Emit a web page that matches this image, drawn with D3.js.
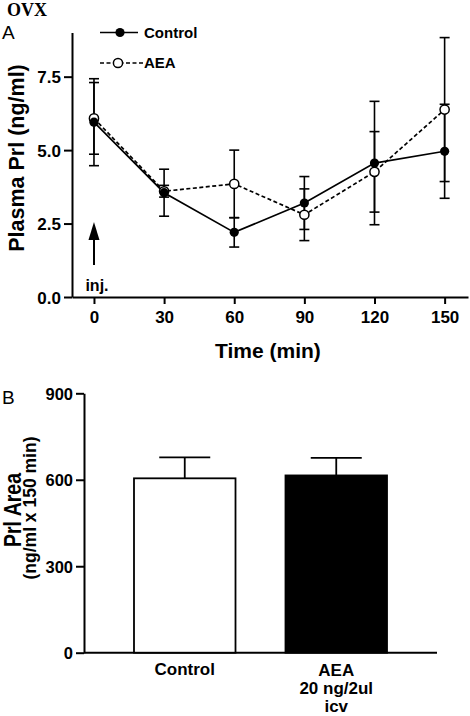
<!DOCTYPE html>
<html><head><meta charset="utf-8">
<script src="https://cdn.jsdelivr.net/npm/d3@7"></script>
<style>
body{margin:0;background:#fff;}
text{font-family:"Liberation Sans",Arial,Helvetica,sans-serif;font-weight:bold;fill:#000;}
</style></head>
<body><svg id="c" width="470" height="716"></svg>
<script>
// Panel A data
const times = [0, 30, 60, 90, 120, 150];
const controlMean = [5.95, 3.55, 2.2, 3.2, 4.56, 4.96];
const controlErr  = [1.48, 0.8, 0.5, 0.9, 2.1, 1.6];
const aeaMean     = [6.08, 3.6, 3.85, 2.8, 4.26, 6.38];
const aeaErr      = [1.22, 0.2, 1.15, 0.88, 1.37, 2.45];
const yTicksA = [0, 2.5, 5, 7.5];
// Panel B data
const groups = ["Control", "AEA"];
const areaMean = [605, 615];
const areaErr  = [73, 61];
const yTicksB = [0, 300, 600, 900];

const svg = d3.select("#c");

// ---------- Panel A ----------
const xA = d3.scaleLinear().domain([-9.4, 160]).range([72, 468]);
const yA = d3.scaleLinear().domain([0, 9]).range([297, 32.6]);

const gxA = svg.append("g").attr("transform","translate(0,297)")
  .call(d3.axisBottom(xA).tickValues(times).tickSize(7).tickSizeOuter(0).tickPadding(7));
const gyA = svg.append("g").attr("transform","translate(72,0)")
  .call(d3.axisLeft(yA).tickValues(yTicksA).tickFormat(d3.format(".1f")).tickSize(8).tickSizeOuter(0).tickPadding(3));
[gxA, gyA].forEach(g=>{
  g.selectAll("path,line").attr("stroke","#000").attr("stroke-width",2);
  g.selectAll("text").style("font-size","17px").style("font-weight","bold");
});
gyA.selectAll("text").attr("dy","0.36em");

svg.append("text").attr("x",215).attr("y",358).style("font-size","21px").text("Time (min)");
svg.append("text").attr("transform","translate(24,158) rotate(-90)").attr("text-anchor","middle")
  .style("font-size","21.5px").text("Plasma Prl (ng/ml)");
svg.append("text").attr("x",7).attr("y",16).style("font-family","'Liberation Serif','Times New Roman',serif")
  .style("font-size","18px").text("OVX");
svg.append("text").attr("x",2).attr("y",39).style("font-size","19px").style("font-weight","normal").text("A");

// arrow + inj.
svg.append("line").attr("x1",xA(0)).attr("x2",xA(0)).attr("y1",265).attr("y2",238)
  .attr("stroke","#000").attr("stroke-width",2);
svg.append("path").attr("d",`M${xA(0)-5.5},240 L${xA(0)+5.5},240 L${xA(0)},222 Z`).attr("fill","#000");
svg.append("text").attr("x",xA(0)+3).attr("y",291).attr("text-anchor","middle").style("font-size","16px").text("inj.");

const lineGen = d3.line().x((d,i)=>xA(times[i])).y(d=>yA(d));
svg.append("path").datum(aeaMean).attr("d",lineGen).attr("fill","none").attr("stroke","#000")
  .attr("stroke-width",1.7).attr("stroke-dasharray","4,2.5");
svg.append("path").datum(controlMean).attr("d",lineGen).attr("fill","none").attr("stroke","#000")
  .attr("stroke-width",1.7);

function errBars(means, errs){
  const g = svg.append("g").attr("stroke","#000").attr("stroke-width",1.6);
  means.forEach((m,i)=>{
    const x = xA(times[i]);
    g.append("line").attr("x1",x).attr("x2",x).attr("y1",yA(m-errs[i])).attr("y2",yA(m+errs[i]));
    [m-errs[i], m+errs[i]].forEach(v=>{
      g.append("line").attr("x1",x-5).attr("x2",x+5).attr("y1",yA(v)).attr("y2",yA(v));
    });
  });
}
errBars(controlMean, controlErr);
errBars(aeaMean, aeaErr);

svg.append("g").selectAll("circle").data(aeaMean).join("circle")
  .attr("cx",(d,i)=>xA(times[i])).attr("cy",d=>yA(d)).attr("r",4.6)
  .attr("fill","#fff").attr("stroke","#000").attr("stroke-width",1.5);
svg.append("g").selectAll("circle").data(controlMean).join("circle")
  .attr("cx",(d,i)=>xA(times[i])).attr("cy",d=>yA(d)).attr("r",4.6).attr("fill","#000");

// legend
svg.append("line").attr("x1",100).attr("x2",138).attr("y1",32.5).attr("y2",32.5).attr("stroke","#000").attr("stroke-width",1.7);
svg.append("circle").attr("cx",120).attr("cy",32.5).attr("r",4.6).attr("fill","#000");
svg.append("text").attr("x",144).attr("y",37.5).style("font-size","15px").text("Control");
svg.append("line").attr("x1",100).attr("x2",143).attr("y1",63).attr("y2",63).attr("stroke","#000")
  .attr("stroke-width",1.5).attr("stroke-dasharray","4,2.5");
svg.append("circle").attr("cx",118).attr("cy",63).attr("r",4.6).attr("fill","#fff").attr("stroke","#000").attr("stroke-width",1.5);
svg.append("text").attr("x",144).attr("y",68).style("font-size","15px").text("AEA");

// ---------- Panel B ----------
const xB = d3.scaleBand().domain(groups).range([84, 437]).paddingInner(0.33).paddingOuter(0.33);
const yB = d3.scaleLinear().domain([0, 900]).range([652.7, 393.3]);

const gyB = svg.append("g").attr("transform","translate(84,0)")
  .call(d3.axisLeft(yB).tickValues(yTicksB).tickSize(8).tickSizeOuter(0).tickPadding(3));
gyB.selectAll("path,line").attr("stroke","#000").attr("stroke-width",2);
gyB.selectAll("text").style("font-size","16.5px").style("font-weight","bold").attr("dy","0.36em");
svg.append("line").attr("x1",84).attr("x2",437).attr("y1",yB(0)).attr("y2",yB(0)).attr("stroke","#000").attr("stroke-width",2);

const barFill = ["#fff","#000"];
svg.append("g").selectAll("rect").data(areaMean).join("rect")
  .attr("x",(d,i)=>xB(groups[i])).attr("y",d=>yB(d))
  .attr("width",xB.bandwidth()).attr("height",d=>yB(0)-yB(d))
  .attr("fill",(d,i)=>barFill[i]).attr("stroke","#000").attr("stroke-width",1.8);
const eg = svg.append("g").attr("stroke","#000").attr("stroke-width",1.8);
areaMean.forEach((m,i)=>{
  const cx = xB(groups[i]) + xB.bandwidth()/2;
  eg.append("line").attr("x1",cx).attr("x2",cx).attr("y1",yB(m)).attr("y2",yB(m+areaErr[i]));
  eg.append("line").attr("x1",cx-25.5).attr("x2",cx+25.5).attr("y1",yB(m+areaErr[i])).attr("y2",yB(m+areaErr[i]));
});

const cC = xB("Control") + xB.bandwidth()/2, cA = xB("AEA") + xB.bandwidth()/2;
svg.append("text").attr("x",cC).attr("y",675).attr("text-anchor","middle").style("font-size","17px").text("Control");
[["AEA",676],["20 ng/2ul",694],["icv",712]].forEach(([t,y])=>{
  svg.append("text").attr("x",cA).attr("y",y).attr("text-anchor","middle").style("font-size","17px").text(t);
});
svg.append("text").attr("x",2).attr("y",404).style("font-size","19px").style("font-weight","normal").text("B");
svg.append("text").attr("transform","translate(21,510) rotate(-90)").attr("text-anchor","middle")
  .attr("textLength",74).attr("lengthAdjust","spacingAndGlyphs")
  .style("font-size","24px").text("Prl Area");
svg.append("text").attr("transform","translate(36,508) rotate(-90)").attr("text-anchor","middle")
  .attr("textLength",143).attr("lengthAdjust","spacingAndGlyphs")
  .style("font-size","18px").text("(ng/ml x 150 min)");
</script></body></html>
